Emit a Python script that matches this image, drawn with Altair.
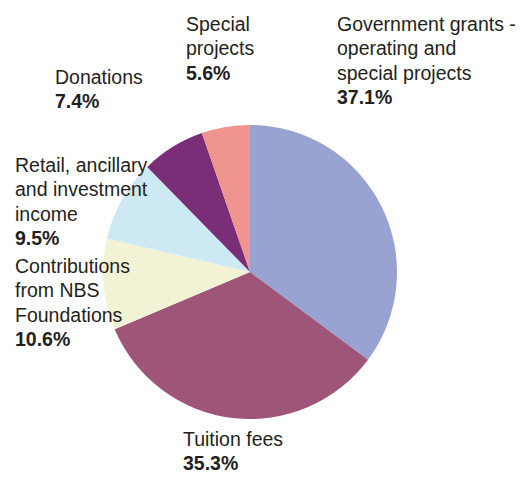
import altair as alt
import pandas as pd

# Data
categories = ["Government grants - operating and special projects", "Tuition fees",
              "Contributions from NBS Foundations", "Retail, ancillary and investment income",
              "Donations", "Special projects"]
shares = [37.1, 35.3, 10.6, 9.5, 7.4, 5.6]
colors = ["#98A3D1", "#9E5577", "#F2F2D5", "#CDE9F4", "#7B2E78", "#EF948F"]

# Label text (line broken as in the reference)
label_lines = ["Government grants -\noperating and\nspecial projects",
               "Tuition fees",
               "Contributions\nfrom NBS\nFoundations",
               "Retail, ancillary\nand investment\nincome",
               "Donations",
               "Special\nprojects"]
pct_labels = ["37.1%", "35.3%", "10.6%", "9.5%", "7.4%", "5.6%"]

# Label placement (page pixels: left x, first-line baseline y)
label_x = [337, 183, 15, 15, 55, 186]
label_y = [31, 446, 273, 172, 84, 31]

W, H = 513, 467
LH = 24.3
FS = 19.5
CX, CY, R = 250 - 8, 272 - 8, 147

pie_df = pd.DataFrame({"category": categories, "share": shares, "idx": list(range(len(categories)))})

rows = []
for i in range(len(categories)):
    n = label_lines[i].count("\n") + 1
    rows.append({"txt": label_lines[i], "kind": "name", "x": label_x[i] - 8, "y": label_y[i] - 8})
    rows.append({"txt": pct_labels[i], "kind": "pct", "x": label_x[i] - 8, "y": label_y[i] - 8 + n * LH})
lab_df = pd.DataFrame(rows)

pie = alt.Chart(pie_df).mark_arc(radius=R, strokeWidth=0).encode(
    theta=alt.Theta("share:Q", stack=True),
    order=alt.Order("idx:Q"),
    color=alt.Color("category:N", scale=alt.Scale(domain=categories, range=colors), legend=None),
    x=alt.value(CX),
    y=alt.value(CY),
)

xs = alt.X("x:Q", scale=alt.Scale(domain=[0, W], range=[0, W]), axis=None)
ys = alt.Y("y:Q", scale=alt.Scale(domain=[0, H], range=[0, H]), axis=None)

names = alt.Chart(lab_df).transform_filter(alt.datum.kind == "name").mark_text(
    align="left", baseline="alphabetic", font="Liberation Sans", fontSize=FS,
    lineBreak="\n", lineHeight=LH, color="#231F20"
).encode(x=xs, y=ys, text="txt:N")

pcts = alt.Chart(lab_df).transform_filter(alt.datum.kind == "pct").mark_text(
    align="left", baseline="alphabetic", font="Liberation Sans", fontSize=FS,
    fontWeight="bold", color="#231F20"
).encode(x=xs, y=ys, text="txt:N")

chart = alt.layer(pie, names, pcts).properties(
    width=W, height=H, padding=0, background="white",
    autosize=alt.AutoSizeParams(type="none")
).configure_view(strokeWidth=0, stroke="transparent")

chart.save("out.html", embed_options={"renderer": "svg", "actions": False})
